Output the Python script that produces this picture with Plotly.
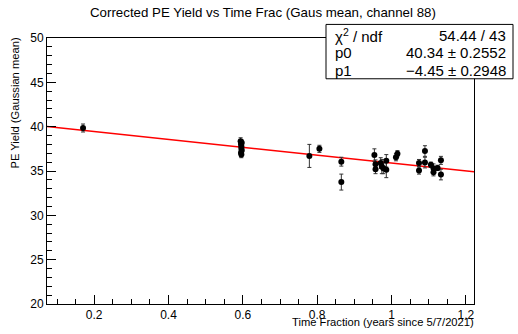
import numpy as np
import plotly.graph_objects as go

# Measured points: time fraction (years since 5/7/2021), PE yield and its error
time_frac = [0.170, 0.594, 0.595, 0.596, 0.596, 0.597, 0.595, 0.596, 0.597,
             0.779, 0.806, 0.865, 0.865, 0.954, 0.957, 0.957, 0.971, 0.974,
             0.978, 0.986, 0.986, 1.012, 1.016, 1.074, 1.074, 1.090, 1.090,
             1.106, 1.113, 1.113, 1.124, 1.133, 1.133]
pe_yield = [39.85, 38.35, 38.05, 37.8, 37.55, 37.3, 37.05, 36.85, 38.2,
            36.7, 37.5, 36.05, 33.75, 36.8, 35.75, 35.2, 35.9, 35.5,
            35.3, 36.15, 35.15, 36.55, 36.95, 35.9, 35.05, 37.25, 35.95,
            35.7, 35.3, 34.85, 35.35, 36.2, 34.6]
pe_err = [0.45, 0.4, 0.35, 0.35, 0.4, 0.4, 0.45, 0.35, 0.3,
          1.3, 0.4, 0.5, 0.9, 0.7, 0.5, 0.5, 0.6, 0.8,
          0.6, 0.7, 0.9, 0.4, 0.35, 0.4, 0.4, 0.6, 0.6,
          0.3, 0.5, 0.4, 0.3, 0.45, 0.6]

# Linear fit result (pol1)
p0, p0_err = 40.34, 0.2552
p1, p1_err = -4.45, 0.2948
chi2, ndf = 54.44, 43

x_range = [0.073, 1.222]
y_range = [20, 50]

W, H = 518, 334
ML, MR, MT, MB = 47, 44, 38, 22
PW, PH = W - ML - MR, H - MT - MB

def px(x):
    return (x - ML) / PW

def py(y):
    return (H - MB - y) / PH

fig = go.Figure()

fit_x = np.linspace(x_range[0], x_range[1], 50)
fig.add_trace(go.Scatter(x=fit_x, y=p0 + p1 * fit_x, mode="lines",
                         line=dict(color="#ff0000", width=1.5),
                         hoverinfo="skip", showlegend=False))

fig.add_trace(go.Scatter(
    x=time_frac, y=pe_yield, mode="markers",
    marker=dict(color="black", size=6, symbol="circle"),
    error_y=dict(type="data", array=pe_err, visible=True,
                 color="#333333", thickness=1, width=2),
    showlegend=False))

font = "Liberation Sans, Arial, sans-serif"

fig.update_layout(
    width=W, height=H,
    margin=dict(l=ML, r=MR, t=MT, b=MB),
    paper_bgcolor="white", plot_bgcolor="white",
    font=dict(family=font, size=12, color="black"),
    showlegend=False,
    xaxis=dict(range=x_range, showgrid=False, zeroline=False,
               showline=True, linecolor="black", linewidth=1, mirror=True,
               ticks="inside", ticklen=9, tickcolor="black",
               tickvals=[0.2, 0.4, 0.6, 0.8, 1.0, 1.2],
               ticktext=["0.2", "0.4", "0.6", "0.8", "1", "1.2"],
               ticklabelstandoff=0,
               minor=dict(ticks="inside", ticklen=5, dtick=0.05,
                          tick0=0.0, tickcolor="black"),
               tickfont=dict(size=12)),
    yaxis=dict(range=y_range, showgrid=False, zeroline=False,
               showline=True, linecolor="black", linewidth=1, mirror=True,
               ticks="inside", ticklen=9, tickcolor="black",
               tickvals=[20, 25, 30, 35, 40, 45, 50],
               minor=dict(ticks="inside", ticklen=5, dtick=1,
                          tick0=0, tickcolor="black"),
               tickfont=dict(size=12)),
)

ann = []
ann.append(dict(text="Corrected PE Yield vs Time Frac (Gaus mean, channel 88)",
                x=px(263), y=py(12), xref="paper", yref="paper",
                xanchor="center", yanchor="middle", showarrow=False,
                font=dict(size=13.3)))
ann.append(dict(text="Time Fraction (years since 5/7/2021)",
                x=px(475), y=py(331), xref="paper", yref="paper",
                xanchor="right", yanchor="middle", showarrow=False,
                borderpad=0, font=dict(size=11.2)))
ann.append(dict(text="PE Yield (Gaussian mean)", textangle=-90,
                x=px(15), y=py(36), xref="paper", yref="paper",
                xanchor="center", yanchor="top", showarrow=False,
                font=dict(size=11.2)))

# Statistics box
box_l, box_r, box_t, box_b = 326, 513, 24, 80
fig.add_shape(type="rect", xref="paper", yref="paper",
              x0=px(box_l), x1=px(box_r), y0=py(box_b), y1=py(box_t),
              fillcolor="white", line=dict(color="black", width=1), layer="above")
rows = [("χ<sup>2</sup> / ndf", f"{chi2:.2f} / {ndf}"),
        ("p0", f"{p0:.2f} ± {p0_err:.4f}"),
        ("p1", f"\u2212{abs(p1):.2f} ± {p1_err:.4f}")]
row_y = [35, 53, 71]
for (lab, val), yy in zip(rows, row_y):
    ann.append(dict(text=lab, x=px(333), y=py(yy), xref="paper", yref="paper",
                    xanchor="left", yanchor="middle", showarrow=False,
                    font=dict(size=15)))
    ann.append(dict(text=val, x=px(508), y=py(yy), xref="paper", yref="paper",
                    xanchor="right", yanchor="middle", showarrow=False,
                    font=dict(size=15)))
fig.update_layout(annotations=ann)

fig.write_html("out.html")
